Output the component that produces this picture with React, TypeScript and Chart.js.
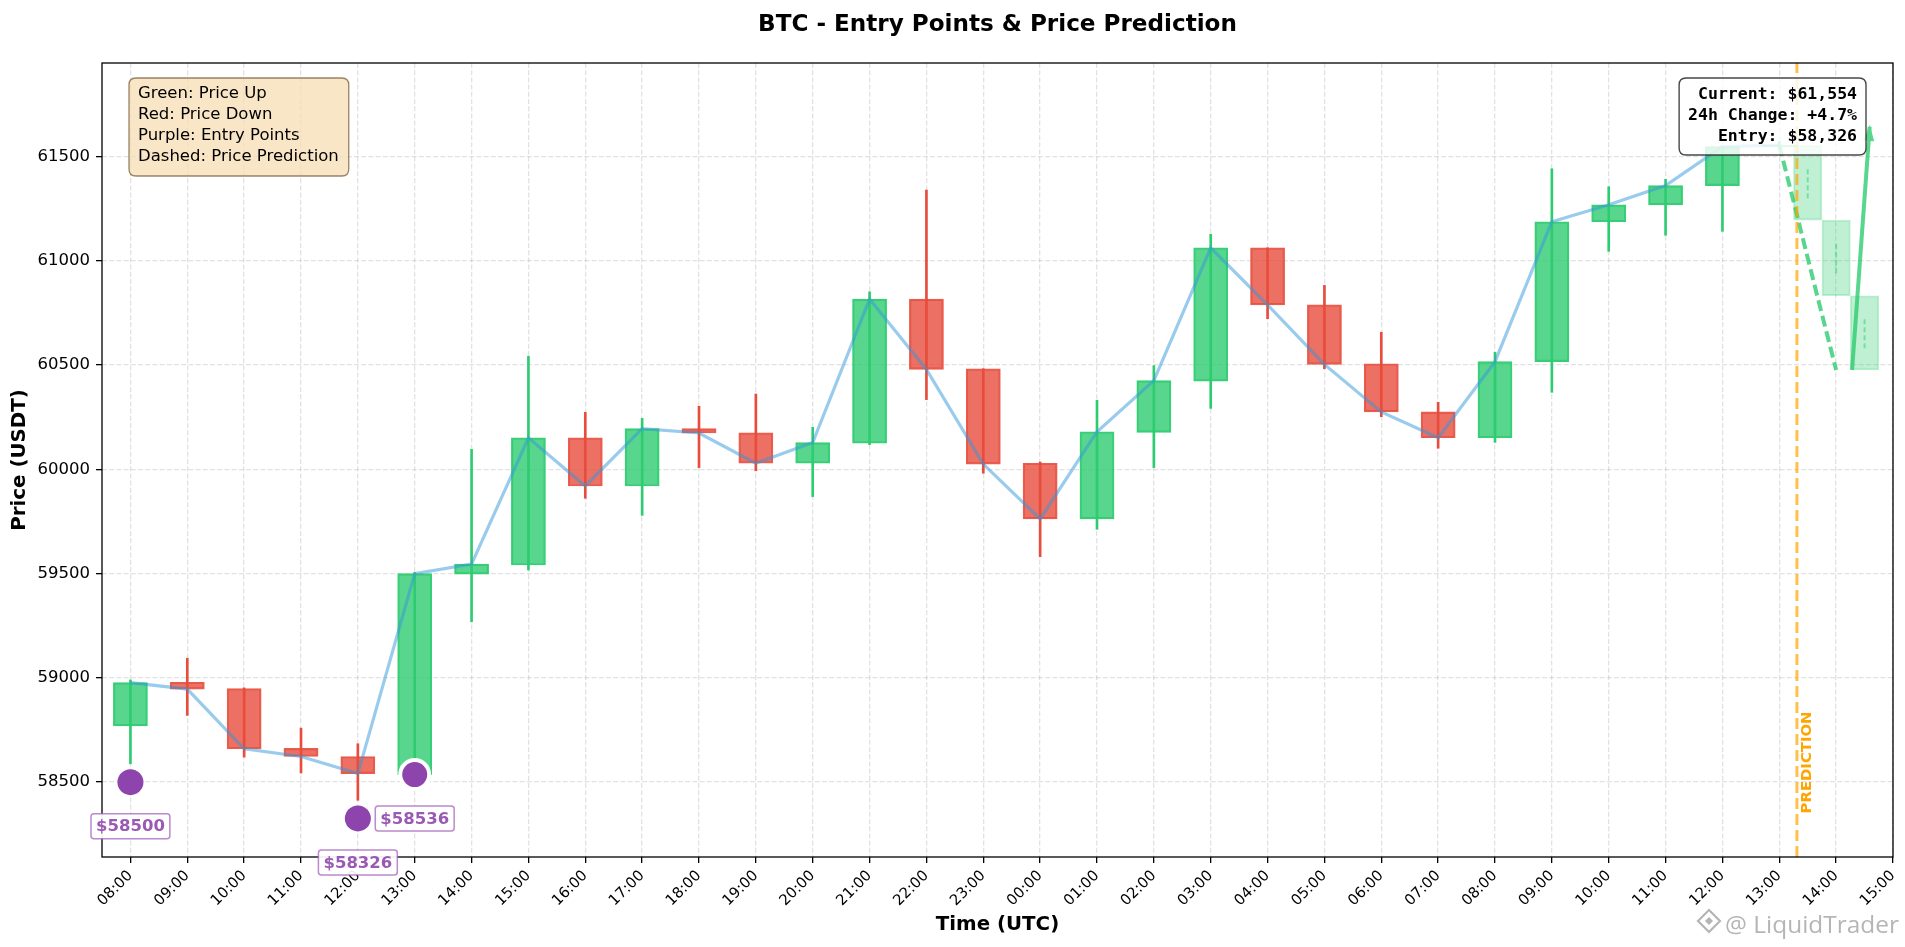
import React, { useEffect, useRef } from 'react';
import { Chart, registerables } from 'chart.js';

Chart.register(...registerables);

// ---------- data ----------
const TIME_LABELS = [
  '08:00', '09:00', '10:00', '11:00', '12:00', '13:00', '14:00', '15:00',
  '16:00', '17:00', '18:00', '19:00', '20:00', '21:00', '22:00', '23:00',
  '00:00', '01:00', '02:00', '03:00', '04:00', '05:00', '06:00', '07:00',
  '08:00', '09:00', '10:00', '11:00', '12:00', '13:00', '14:00', '15:00',
];

const OPEN = [58770, 58979, 58949, 58662, 58623, 58536, 59497, 59541, 60151, 59920, 60195, 60175, 60029, 60125, 60816, 60482, 60029, 59762, 60177, 60423, 61062, 60789, 60506, 60275, 60151, 60516, 61187, 61268, 61360, 61547];
const HIGH = [58990, 59094, 58952, 58759, 58684, 59505, 60096, 60542, 60273, 60244, 60302, 60361, 60201, 60851, 61339, 60482, 60035, 60331, 60497, 61127, 61062, 60882, 60657, 60321, 60561, 61441, 61355, 61390, 61547, 61572];
const LOW = [58588, 58820, 58620, 58544, 58413, 58520, 59269, 59517, 59861, 59779, 60008, 59993, 59869, 60118, 60334, 59981, 59581, 59712, 60008, 60292, 60722, 60482, 60252, 60101, 60129, 60369, 61045, 61122, 61141, 61535];
const CLOSE = [58977, 58946, 58660, 58623, 58541, 59500, 59545, 60151, 59920, 60195, 60174, 60029, 60128, 60816, 60479, 60025, 59762, 60180, 60425, 61062, 60788, 60503, 60275, 60151, 60516, 61187, 61268, 61360, 61547, 61554];

const PRED_X = [29.5, 30, 30.5];
const PRED_OPEN = [61554, 61195, 60832];
const PRED_CLOSE = [61195, 60832, 60476];
const PRED_WICK_HIGH = [61444, 61091, 60732];
const PRED_WICK_LOW = [61300, 60940, 60580];

const PRED_LINE_X = [29, 29.333, 29.667, 30];
const PRED_LINE_Y = [61554, 61195, 60832, 60476];

const ARROW_X = [30.28, 30.59];
const ARROW_Y = [60476, 61642];

const PRED_START = 29.31;
const PRED_LABEL_Y = 58350;

const ENTRY_X = [0, 4, 5];
const ENTRY_Y = [58500, 58326, 58536];
const ENTRY_HIGHLIGHT = [false, false, true];

const Y_TICKS = [58500, 59000, 59500, 60000, 60500, 61000, 61500];
const Y_MIN = 58141;
const Y_MAX = 61948;
const X_MIN = -0.5;
const X_MAX = 31;

const LEGEND_LINES = ['Green: Price Up', 'Red: Price Down', 'Purple: Entry Points', 'Dashed: Price Prediction'];

// ---------- styles ----------
const FONT = '"DejaVu Sans", sans-serif';
const MONO = '"DejaVu Sans Mono", monospace';
const GREEN = '#2ecc71';
const RED = '#e74c3c';
const GREEN_A = 'rgba(46,204,113,0.8)';
const RED_A = 'rgba(231,76,60,0.8)';
const GRID = 'rgba(160,160,160,0.3)';

const fmt = (v: number) => v.toLocaleString('en-US');

function roundRect(ctx: CanvasRenderingContext2D, x: number, y: number, w: number, h: number, r: number) {
  ctx.beginPath();
  ctx.moveTo(x + r, y);
  ctx.lineTo(x + w - r, y);
  ctx.quadraticCurveTo(x + w, y, x + w, y + r);
  ctx.lineTo(x + w, y + h - r);
  ctx.quadraticCurveTo(x + w, y + h, x + w - r, y + h);
  ctx.lineTo(x + r, y + h);
  ctx.quadraticCurveTo(x, y + h, x, y + h - r);
  ctx.lineTo(x, y + r);
  ctx.quadraticCurveTo(x, y, x + r, y);
  ctx.closePath();
}

const unitWidth = (units: number) => (c: any) => {
  const s = c.chart.scales && c.chart.scales.x;
  if (!s) return 30;
  return Math.abs(s.getPixelForValue(units) - s.getPixelForValue(0));
};

const overlayPlugin = {
  id: 'overlay',
  afterDraw(chart: any) {
    const { ctx, chartArea: a, scales } = chart;
    const x = scales.x;
    const y = scales.y;
    ctx.save();

    // frame
    ctx.strokeStyle = '#000';
    ctx.lineWidth = 1.3;
    ctx.strokeRect(a.left, a.top, a.right - a.left, a.bottom - a.top);

    // arrow head
    const sx = x.getPixelForValue(ARROW_X[0]);
    const sy = y.getPixelForValue(ARROW_Y[0]);
    const ex = x.getPixelForValue(ARROW_X[1]);
    const ey = y.getPixelForValue(ARROW_Y[1]);
    const len = Math.hypot(ex - sx, ey - sy);
    const dx = (ex - sx) / len;
    const dy = (ey - sy) / len;
    const hl = 14;
    const hw = 5.5;
    ctx.beginPath();
    ctx.moveTo(ex + dx * 2, ey + dy * 2);
    ctx.lineTo(ex - dx * hl - dy * hw, ey - dy * hl + dx * hw);
    ctx.lineTo(ex - dx * hl + dy * hw, ey - dy * hl - dx * hw);
    ctx.closePath();
    ctx.fillStyle = '#58d68d';
    ctx.fill();

    // PREDICTION label
    const vx = x.getPixelForValue(PRED_START);
    const vy = y.getPixelForValue(PRED_LABEL_Y);
    ctx.save();
    ctx.translate(vx + 10, vy);
    ctx.rotate(-Math.PI / 2);
    ctx.font = `bold 14.85px ${FONT}`;
    ctx.fillStyle = '#ffa500';
    ctx.textAlign = 'left';
    ctx.textBaseline = 'middle';
    ctx.fillText('PREDICTION', 0, 0);
    ctx.restore();

    // entry labels
    ctx.font = `bold 16.5px ${FONT}`;
    ENTRY_X.forEach((ex0, i) => {
      const px = x.getPixelForValue(ex0);
      const py = y.getPixelForValue(ENTRY_Y[i]) + 44;
      const text = `$${ENTRY_Y[i]}`;
      const w = ctx.measureText(text).width + 10;
      const h = 25;
      roundRect(ctx, px - w / 2, py - h / 2, w, h, 3);
      ctx.fillStyle = 'rgba(255,255,255,0.92)';
      ctx.fill();
      ctx.strokeStyle = 'rgba(155,89,182,0.7)';
      ctx.lineWidth = 1.5;
      ctx.stroke();
      ctx.fillStyle = '#9b59b6';
      ctx.textAlign = 'center';
      ctx.textBaseline = 'middle';
      ctx.fillText(text, px, py + 1);
    });

    // legend box (top-left)
    ctx.font = `16.5px ${FONT}`;
    const lw = Math.max(...LEGEND_LINES.map((t) => ctx.measureText(t).width));
    const lx = a.left + 27;
    const ly = a.top + 15;
    roundRect(ctx, lx, ly, lw + 19, 98, 7);
    ctx.fillStyle = 'rgba(245,222,179,0.75)';
    ctx.fill();
    ctx.strokeStyle = 'rgba(120,92,60,0.75)';
    ctx.lineWidth = 1.3;
    ctx.stroke();
    ctx.fillStyle = '#000';
    ctx.textAlign = 'left';
    ctx.textBaseline = 'middle';
    LEGEND_LINES.forEach((t, i) => ctx.fillText(t, lx + 9, ly + 16 + i * 21));

    // info box (top-right)
    const change = ((CLOSE[CLOSE.length - 1] - OPEN[0]) / OPEN[0]) * 100;
    const info = [
      `Current: $${fmt(CLOSE[CLOSE.length - 1])}`,
      `24h Change: ${change >= 0 ? '+' : ''}${change.toFixed(1)}%`,
      `Entry: $${fmt(Math.min(...ENTRY_Y))}`,
    ];
    ctx.font = `bold 16.5px ${MONO}`;
    const iw = Math.max(...info.map((t) => ctx.measureText(t).width)) + 18;
    const ix = a.right - 27 - iw;
    const iy = a.top + 15;
    roundRect(ctx, ix, iy, iw, 77, 7);
    ctx.fillStyle = 'rgba(255,255,255,0.82)';
    ctx.fill();
    ctx.strokeStyle = 'rgba(40,40,40,0.85)';
    ctx.lineWidth = 1.4;
    ctx.stroke();
    ctx.fillStyle = '#000';
    ctx.textAlign = 'right';
    ctx.textBaseline = 'middle';
    info.forEach((t, i) => ctx.fillText(t, ix + iw - 9, iy + 17 + i * 21));

    // title
    ctx.font = `bold 23.1px ${FONT}`;
    ctx.textAlign = 'center';
    ctx.textBaseline = 'middle';
    ctx.fillStyle = '#000';
    ctx.fillText('BTC - Entry Points & Price Prediction', (a.left + a.right) / 2, 24.5);

    // watermark
    const wmText = '@ LiquidTrader';
    let fs = 25;
    ctx.font = `${fs}px "Open Sans", ${FONT}`;
    const mw = ctx.measureText(wmText).width;
    fs = (fs * 174) / mw;
    ctx.font = `${fs}px "Open Sans", ${FONT}`;
    ctx.fillStyle = 'rgba(150,150,150,0.7)';
    ctx.textAlign = 'right';
    ctx.textBaseline = 'alphabetic';
    ctx.fillText(wmText, chart.width - 6, chart.height - 14);
    const cx = chart.width - 6 - 174 - 16;
    const cy = chart.height - 26;
    ctx.strokeStyle = 'rgba(150,150,150,0.7)';
    ctx.lineWidth = 2.2;
    ctx.beginPath();
    ctx.moveTo(cx, cy - 11);
    ctx.lineTo(cx + 11, cy);
    ctx.lineTo(cx, cy + 11);
    ctx.lineTo(cx - 11, cy);
    ctx.closePath();
    ctx.stroke();
    ctx.beginPath();
    ctx.moveTo(cx, cy - 4);
    ctx.lineTo(cx + 4, cy);
    ctx.lineTo(cx, cy + 4);
    ctx.lineTo(cx - 4, cy);
    ctx.closePath();
    ctx.fillStyle = 'rgba(150,150,150,0.7)';
    ctx.fill();

    ctx.restore();
  },
};

export default function App() {
  const ref = useRef<HTMLCanvasElement>(null);

  useEffect(() => {
    const canvas = ref.current;
    if (!canvas) return;
    const idx = OPEN.map((_, i) => i);
    const up = idx.map((i) => CLOSE[i] >= OPEN[i]);

    const datasets: any[] = [
      {
        type: 'bar',
        label: 'wicks',
        data: idx.map((i) => ({ x: i, y: [LOW[i], HIGH[i]] })),
        backgroundColor: up.map((u) => (u ? GREEN : RED)),
        borderWidth: 0,
        barThickness: 2,
        grouped: false,
        order: 10,
      },
      {
        type: 'bar',
        label: 'bodies',
        data: idx.map((i) => ({ x: i, y: [OPEN[i], CLOSE[i]] })),
        backgroundColor: up.map((u) => (u ? GREEN_A : RED_A)),
        borderColor: up.map((u) => (u ? 'rgba(46,204,113,0.95)' : 'rgba(231,76,60,0.9)')),
        borderWidth: 1.5,
        borderSkipped: false,
        barThickness: unitWidth(0.6),
        grouped: false,
        order: 9,
      },
      {
        type: 'bar',
        label: 'prediction bodies',
        data: PRED_X.map((px, i) => ({ x: px, y: [PRED_OPEN[i], PRED_CLOSE[i]] })),
        backgroundColor: 'rgba(46,204,113,0.3)',
        borderColor: 'rgba(46,204,113,0.3)',
        borderWidth: 1.2,
        borderSkipped: false,
        barThickness: unitWidth(0.5),
        grouped: false,
        order: 8,
      },
      {
        type: 'line',
        label: 'prediction wicks',
        data: PRED_X.flatMap((px, i) => [
          { x: px, y: PRED_WICK_LOW[i] },
          { x: px, y: PRED_WICK_HIGH[i] },
          { x: px, y: null },
        ]),
        borderColor: 'rgba(46,204,113,0.5)',
        borderWidth: 2,
        borderDash: [5, 3],
        pointRadius: 0,
        spanGaps: false,
        order: 7,
      },
      {
        type: 'line',
        label: 'close',
        data: idx.map((i) => ({ x: i, y: CLOSE[i] })),
        borderColor: 'rgba(52,152,219,0.5)',
        borderWidth: 3.2,
        pointRadius: 0,
        tension: 0,
        order: 6,
      },
      {
        type: 'line',
        label: 'prediction',
        data: PRED_LINE_X.map((px, i) => ({ x: px, y: PRED_LINE_Y[i] })),
        borderColor: GREEN_A,
        borderWidth: 4,
        borderDash: [11, 5],
        pointRadius: 0,
        order: 5,
      },
      {
        type: 'line',
        label: 'arrow',
        data: ARROW_X.map((px, i) => ({ x: px, y: ARROW_Y[i] })),
        borderColor: GREEN_A,
        borderWidth: 4,
        pointRadius: 0,
        order: 4,
      },
      {
        type: 'line',
        label: 'prediction start',
        data: [
          { x: PRED_START, y: Y_MIN },
          { x: PRED_START, y: Y_MAX },
        ],
        borderColor: 'rgba(255,165,0,0.7)',
        borderWidth: 3,
        borderDash: [11, 5],
        pointRadius: 0,
        order: 3,
      },
      {
        type: 'line',
        label: 'entries',
        data: ENTRY_X.map((ex, i) => ({ x: ex, y: ENTRY_Y[i] })),
        showLine: false,
        pointRadius: ENTRY_HIGHLIGHT.map((h) => (h ? 14.5 : 13)),
        pointBorderWidth: ENTRY_HIGHLIGHT.map((h) => (h ? 4 : 0)),
        pointBorderColor: '#ffffff',
        pointBackgroundColor: '#8e44ad',
        order: 1,
        clip: false,
      },
    ];

    const chart = new Chart(canvas, {
      type: 'bar',
      data: { datasets },
      options: {
        responsive: false,
        animation: false,
        events: [],
        layout: { autoPadding: false, padding: { left: 0, top: 63, right: 12, bottom: 0 } },
        plugins: {
          legend: { display: false },
          tooltip: { enabled: false },
          title: { display: false },
        },
        scales: {
          x: {
            type: 'linear',
            min: X_MIN,
            max: X_MAX,
            offset: false,
            afterFit: (s: any) => {
              s.height = 90;
              s.paddingLeft = 0;
              s.paddingRight = 0;
            },
            afterBuildTicks: (s: any) => {
              s.ticks = TIME_LABELS.map((_, i) => ({ value: i }));
            },
            grid: {
              display: true,
              offset: false,
              color: GRID,
              lineWidth: 1.3,
              drawTicks: true,
              tickLength: 6,
              tickColor: '#000',
              tickWidth: 1.3,
              tickBorderDash: [],
            },
            border: { display: false, dash: [5, 2.2] },
            ticks: {
              autoSkip: false,
              minRotation: 45,
              maxRotation: 45,
              padding: 4,
              color: '#000',
              font: { family: FONT, size: 14.85 },
              callback: (v: any) => TIME_LABELS[Math.round(Number(v))] ?? '',
            },
            title: {
              display: true,
              text: 'Time (UTC)',
              color: '#000',
              font: { family: FONT, size: 19.8, weight: 'bold' },
              padding: { top: 0, bottom: 10 },
            },
          },
          y: {
            type: 'linear',
            min: Y_MIN,
            max: Y_MAX,
            beginAtZero: false,
            afterFit: (s: any) => {
              s.width = 102;
              s.paddingTop = 0;
              s.paddingBottom = 0;
            },
            afterBuildTicks: (s: any) => {
              s.ticks = Y_TICKS.map((v) => ({ value: v }));
            },
            grid: {
              display: true,
              color: GRID,
              lineWidth: 1.3,
              drawTicks: true,
              tickLength: 6,
              tickColor: '#000',
              tickWidth: 1.3,
              tickBorderDash: [],
            },
            border: { display: false, dash: [5, 2.2] },
            ticks: {
              padding: 6,
              color: '#000',
              font: { family: FONT, size: 16.5 },
              callback: (v: any) => String(v),
            },
            title: {
              display: true,
              text: 'Price (USDT)',
              color: '#000',
              font: { family: FONT, size: 19.8, weight: 'bold' },
              padding: { top: 8, bottom: 0 },
            },
          },
        },
      } as any,
      plugins: [overlayPlugin],
    } as any);

    return () => chart.destroy();
  }, []);

  return (
    <div style={{ position: 'absolute', left: 0, top: 0, width: 1905, height: 947, background: '#ffffff' }}>
      <canvas ref={ref} width={1905} height={947} style={{ display: 'block', width: '1905px', height: '947px' }} />
    </div>
  );
}
